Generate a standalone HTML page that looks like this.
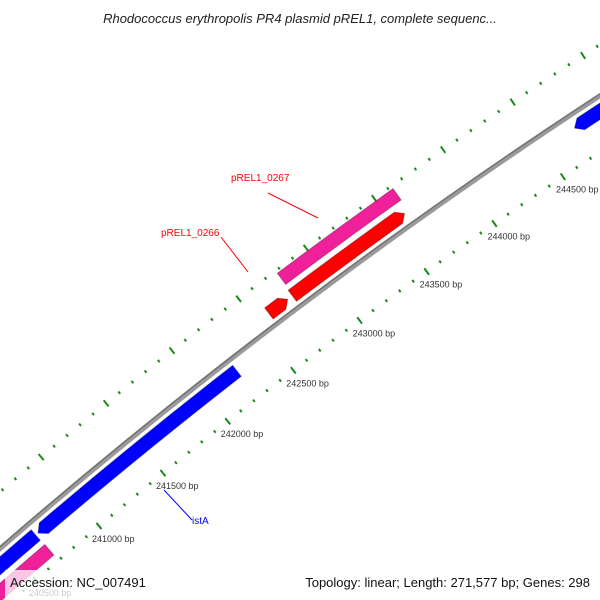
<!DOCTYPE html>
<html><head><meta charset="utf-8"><style>
html,body{margin:0;padding:0;background:#fff;width:600px;height:600px;overflow:hidden;}
svg{display:block;font-family:"Liberation Sans","DejaVu Sans",sans-serif;}
</style></head><body>
<svg id="map" width="600" height="600" viewBox="0 0 600 600" xmlns="http://www.w3.org/2000/svg">
<rect width="600" height="600" fill="#fff"/>
<g id="ticks"></g>
<g id="backbone"></g>
<g id="features"></g>
<g id="labels">
<line x1="268" y1="193" x2="318" y2="218" stroke="#ff0000" stroke-width="1"/>
<text x="231" y="181" font-size="10" fill="#ff0000">pREL1_0267</text>
<line x1="221" y1="237" x2="248" y2="272" stroke="#ff0000" stroke-width="1"/>
<text x="161" y="236" font-size="10" fill="#ff0000">pREL1_0266</text>
<line x1="164" y1="490" x2="192" y2="520" stroke="#0000ff" stroke-width="1"/>
<text x="192" y="524" font-size="10" fill="#0000ff">istA</text>
</g>
<text x="300" y="23" text-anchor="middle" font-size="13" font-style="italic" fill="#222">Rhodococcus erythropolis PR4 plasmid pREL1, complete sequenc...</text>
<rect x="5" y="570" width="142" height="30" fill="#fff" fill-opacity="0.75"/>
<text x="10" y="587" font-size="13" fill="#111">Accession: NC_007491</text>
<text x="590" y="587" text-anchor="end" font-size="13" fill="#111">Topology: linear; Length: 271,577 bp; Genes: 298</text>
</svg>
<script>
const seqLength = 271577;
const tickStart = 239000;
const tickEnd = 247000;
const featStarts = [242765, 242590, 242774, 240693, 240300, 244720, 239900];
const featEnds = [243595, 242731, 243625, 242230, 240675, 246500, 240680];
const featStrand = [1, 1, 1, -1, -1, -1, -1];
const featArrow = [1, 1, 0, 1, 0, 1, 0];
const featRow = [1, 1, 2, 1, 1, 1, 2];
const featColor = ['#ff0000', '#ff0000', '#f0209a', '#0000ff', '#0000ff', '#0000ff', '#f0209a'];
const featNames = ['feature-prel1-0266-main', 'feature-prel1-0266', 'feature-prel1-0267', 'feature-ista', 'feature-blue-lower', 'feature-blue-upper', 'feature-pink-lower'];

const NS = 'http://www.w3.org/2000/svg';
const R = 5500;
const pxPerBp = 0.166;
const refBp = 241000, refX = 99, refY = 526;
const tang = 40 * Math.PI / 180;
const cx = refX + R * Math.sin(tang), cy = refY + R * Math.cos(tang);
const phi0 = Math.atan2(refY - cy, refX - cx);
function ang(bp) { return phi0 + (bp - refBp) * pxPerBp / R; }
function pt(bp, r) { const a = ang(bp); return [cx + r * Math.cos(a), cy + r * Math.sin(a)]; }
function f(p) { return p[0].toFixed(2) + ',' + p[1].toFixed(2); }

const tg = document.getElementById('ticks');
[0, 90].forEach(function (off) {
  for (let bp = tickStart; bp <= tickEnd; bp += 100) {
    const major = bp % 500 === 0;
    const len = major ? 8 : 3;
    const a = pt(bp, R + off - len / 2), b = pt(bp, R + off + len / 2);
    const l = document.createElementNS(NS, 'line');
    l.setAttribute('x1', a[0]); l.setAttribute('y1', a[1]);
    l.setAttribute('x2', b[0]); l.setAttribute('y2', b[1]);
    l.setAttribute('stroke', '#1b8a1b'); l.setAttribute('stroke-width', '2');
    
    
    tg.appendChild(l);
    if (major && off === 0) {
      const p = pt(bp, R);
      const t = document.createElementNS(NS, 'text');
      t.setAttribute('x', p[0] - 7); t.setAttribute('y', p[1] + 16);
      t.setAttribute('font-size', '9'); t.setAttribute('fill', '#333');
      t.textContent = bp + ' bp';
      
      
      tg.appendChild(t);
    }
  }
});

const bb = document.getElementById('backbone');
function arcPath(b0, b1, r) { return 'M' + f(pt(b0, r)) + ' A' + r + ' ' + r + ' 0 0 1 ' + f(pt(b1, r)); }
[['#9a9a9a', 5], ['#6e6e6e', 1.2]].forEach(function (s, i) {
  const p = document.createElementNS(NS, 'path');
  p.setAttribute('d', arcPath(tickStart, tickEnd, R + 47 + (i ? 1.5 : 0)));
  p.setAttribute('fill', 'none'); p.setAttribute('stroke', s[0]); p.setAttribute('stroke-width', s[1]);
  
  
  bb.appendChild(p);
});

const fg = document.getElementById('features');
const arrowBp = 45;
for (let i = 0; i < featStarts.length; i++) {
  const off = featStrand[i] > 0 ? (featRow[i] === 1 ? 60 : 80) : (featRow[i] === 1 ? 34 : 14);
  const rc = R + off, r1 = rc + 7, r2 = rc - 7;
  const s = featStarts[i], e = featEnds[i];
  const ab = featArrow[i] ? arrowBp : 0;
  let d;
  if (featStrand[i] > 0) {
    const eb = e - ab;
    d = 'M' + f(pt(s, r1)) + ' A' + r1 + ' ' + r1 + ' 0 0 1 ' + f(pt(eb, r1)) +
      ' L' + f(pt(e, rc)) + ' L' + f(pt(eb, r2)) +
      ' A' + r2 + ' ' + r2 + ' 0 0 0 ' + f(pt(s, r2)) + ' Z';
  } else {
    const sb = s + ab;
    d = 'M' + f(pt(sb, r1)) + ' A' + r1 + ' ' + r1 + ' 0 0 1 ' + f(pt(e, r1)) +
      ' L' + f(pt(e, r2)) + ' A' + r2 + ' ' + r2 + ' 0 0 0 ' + f(pt(sb, r2)) +
      ' L' + f(pt(s, rc)) + ' Z';
  }
  const p = document.createElementNS(NS, 'path');
  p.setAttribute('d', d);
  p.setAttribute('fill', featColor[i]);
  p.setAttribute('stroke', 'rgba(0,0,0,0.25)'); p.setAttribute('stroke-width', '1');
  
  
  fg.appendChild(p);
}
</script>
</body></html>
